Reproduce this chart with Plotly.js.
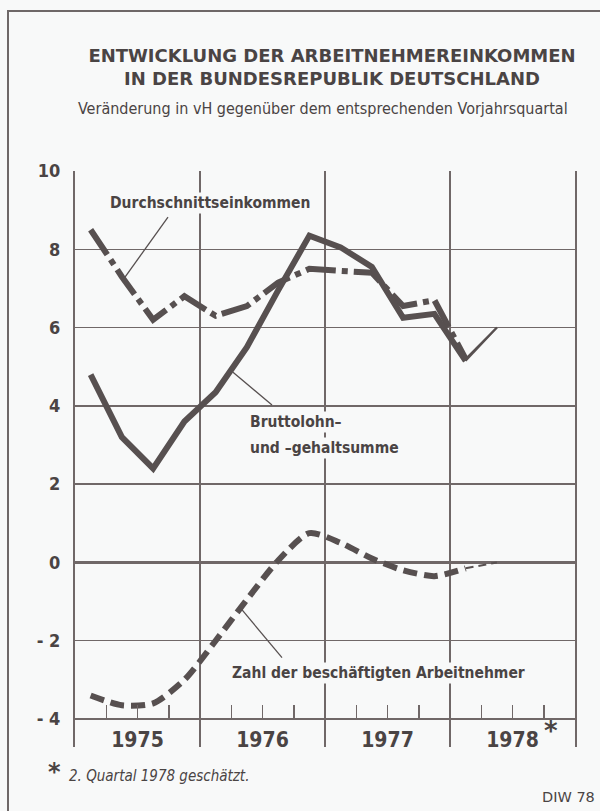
<!DOCTYPE html>
<html>
<head>
<meta charset="utf-8">
<script src="https://cdn.plot.ly/plotly-3.0.1.min.js"></script>
<style>
  html, body { margin: 0; padding: 0; background: #f8f9f9; overflow: hidden; }
  #frame { position: absolute; left: 7px; top: 10px; width: 620px; height: 820px; z-index: 5;
           border-left: 2px solid #6e6868; border-top: 2px solid #6e6868; pointer-events: none; }
  #chart { position: absolute; left: 0; top: 0; width: 600px; height: 811px; z-index: 1; }
</style>
</head>
<body>
<div id="chart"></div>
<div id="frame"></div>
<script>
// ---- data ----
const periods = ["1975-Q1","1975-Q2","1975-Q3","1975-Q4",
                 "1976-Q1","1976-Q2","1976-Q3","1976-Q4",
                 "1977-Q1","1977-Q2","1977-Q3","1977-Q4",
                 "1978-Q1","1978-Q2"];
const bruttolohn = [4.8, 3.2, 2.4, 3.6, 4.35, 5.5, 6.95, 8.35, 8.05, 7.55, 6.25, 6.35, 5.15, 6.0];
const durchschnitt = [8.5, 7.3, 6.2, 6.8, 6.3, 6.55, 7.15, 7.5, 7.45, 7.4, 6.55, 6.7, 5.2, 6.0];
const beschaeftigte = [-3.4, -3.65, -3.6, -3.0, -2.0, -0.95, 0.05, 0.75, 0.5, 0.1, -0.2, -0.35, -0.15, 0.0];
const yearLabels = ["1975","1976","1977","1978"];
const yTickVals = [-4,-2,0,2,4,6,8,10];
const yTickText = ["- 4","- 2","0","2","4","6","8","10"];

// period -> position on a continuous time axis (middle of the quarter)
const xPos = periods.map(p => { const [y,q] = p.split("-Q"); return +y + (+q - 0.5)/4; });
const nEst = 2; // last segment (2nd quarter 1978) is an estimate
const main = a => a.slice(0, a.length - 1);
const est = a => a.slice(a.length - nEst);

const ink = "#575050";
const grid = "#706868";

const traces = [
  {x: main(xPos), y: main(beschaeftigte), mode: "lines",
   line: {color: ink, width: 6, dash: "14px,7px", shape: "spline", smoothing: 0.7}},
  {x: est(xPos), y: est(beschaeftigte), mode: "lines",
   line: {color: ink, width: 2, dash: "8px,5px"}},
  {x: main(xPos), y: main(durchschnitt), mode: "lines",
   line: {color: ink, width: 6, dash: "30px,6px,6px,6px"}},
  {x: est(xPos), y: est(durchschnitt), mode: "lines",
   line: {color: ink, width: 2}},
  {x: main(xPos), y: main(bruttolohn), mode: "lines",
   line: {color: ink, width: 6}},
  {x: est(xPos), y: est(bruttolohn), mode: "lines",
   line: {color: ink, width: 2}}
];

// quarter ticks with year labels in the middle of each year
const xTickVals = [], xTickText = [];
yearLabels.forEach(y => {
  [0.25, 0.5, 0.75].forEach(f => {
    xTickVals.push(+y + f);
    xTickText.push(f === 0.5 ? y : "");
  });
});
const yearBounds = [1975,1976,1977,1978,1979];

const lblFont = {family: "DejaVu Sans Condensed, DejaVu Sans", size: 15.5, color: "#4a4444", weight: 700};
const bg = "#f8f9f9";

const layout = {
  width: 600, height: 811,
  margin: {l: 75, r: 25, t: 171, b: 64},
  paper_bgcolor: bg, plot_bgcolor: bg,
  showlegend: false,
  title: {
    text: "ENTWICKLUNG DER ARBEITNEHMEREINKOMMEN<br>IN DER BUNDESREPUBLIK DEUTSCHLAND",
    font: {family: "DejaVu Sans", size: 18, color: "#4a4444", weight: 700},
    xref: "paper", x: 0.514, xanchor: "center",
    yref: "container", y: 1 - 62/811, yanchor: "top"
  },
  xaxis: {
    range: [1975, 1979],
    anchor: "free", position: 0.715/14.715,
    tickmode: "array", tickvals: xTickVals, ticktext: xTickText,
    ticks: "inside", ticklen: 14, tickwidth: 1.5, tickcolor: grid,
    ticklabelstandoff: 6,
    tickfont: {family: "DejaVu Sans Condensed, DejaVu Sans", size: 21, color: "#4a4444", weight: 700},
    showgrid: false, zeroline: false, showline: false,
    minor: {tickmode: "array", tickvals: yearBounds, showgrid: true, gridcolor: grid, gridwidth: 1.5, ticks: ""},
    fixedrange: true
  },
  yaxis: {
    range: [-4.715, 10],
    tickmode: "array", tickvals: yTickVals, ticktext: yTickText,
    ticks: "", ticklabelstandoff: 9,
    tickfont: {family: "DejaVu Sans Condensed, DejaVu Sans", size: 18, color: "#4a4444", weight: 700},
    showgrid: true, gridcolor: grid, gridwidth: 1.5,
    zeroline: true, zerolinecolor: grid, zerolinewidth: 3.5,
    showline: true, mirror: true, linecolor: grid, linewidth: 2,
    fixedrange: true
  },
  annotations: [
    {text: "Veränderung in vH gegenüber dem entsprechenden Vorjahrsquartal",
     xref: "paper", yref: "paper", x: 0.496, y: (747-108)/576, xanchor: "center", yanchor: "middle",
     showarrow: false, font: {family: "DejaVu Sans Condensed, DejaVu Sans", size: 16, color: "#4a4444"}},
    {text: "Durchschnittseinkommen", xref: "x", yref: "y", x: 1976.08, y: 9.18,
     xanchor: "center", yanchor: "middle", showarrow: false, font: lblFont, bgcolor: bg},
    {text: "Bruttolohn–", xref: "x", yref: "y", x: 1976.38, y: 3.58,
     xanchor: "left", yanchor: "middle", showarrow: false, font: lblFont, bgcolor: bg},
    {text: "und –gehaltsumme", xref: "x", yref: "y", x: 1976.38, y: 2.92,
     xanchor: "left", yanchor: "middle", showarrow: false, font: lblFont, bgcolor: bg},
    {text: "Zahl der beschäftigten Arbeitnehmer", xref: "x", yref: "y", x: 1976.24, y: -2.82,
     xanchor: "left", yanchor: "middle", showarrow: false, font: lblFont, bgcolor: bg},
    {text: "*", xref: "x", yref: "y", x: 1978.81, y: -4.3,
     xanchor: "center", yanchor: "middle", showarrow: false,
     font: {family: "DejaVu Sans", size: 26, color: "#4a4444", weight: 700}},
    {text: "*", xref: "paper", yref: "paper", x: (54-75)/500, y: (747-772)/576,
     xanchor: "center", yanchor: "middle", showarrow: false,
     font: {family: "DejaVu Sans", size: 24, color: "#4a4444", weight: 700}},
    {text: "2. Quartal 1978 geschätzt.", xref: "paper", yref: "paper", x: (67-75)/500, y: (747-776)/576,
     xanchor: "left", yanchor: "middle", showarrow: false,
     font: {family: "DejaVu Sans Condensed, DejaVu Sans", size: 15, color: "#4a4444", style: "italic"}},
    {text: "DIW 78", xref: "paper", yref: "paper", x: (597-75)/500, y: (747-797)/576,
     xanchor: "right", yanchor: "middle", showarrow: false,
     font: {family: "DejaVu Sans", size: 14.5, color: "#4a4444"}}
  ],
  shapes: [
    {type: "line", xref: "x", yref: "y", x0: 1975.744, y0: 8.82, x1: 1975.40, y1: 7.29,
     line: {color: ink, width: 1.3}},
    {type: "line", xref: "x", yref: "y", x0: 1976.264, y0: 4.86, x1: 1976.576, y1: 4.02,
     line: {color: ink, width: 1.3}},
    {type: "line", xref: "x", yref: "y", x0: 1976.32, y0: -1.15, x1: 1976.656, y1: -2.43,
     line: {color: ink, width: 1.3}}
  ]
};

Plotly.newPlot("chart", traces, layout, {displayModeBar: false, staticPlot: true});
</script>
</body>
</html>
